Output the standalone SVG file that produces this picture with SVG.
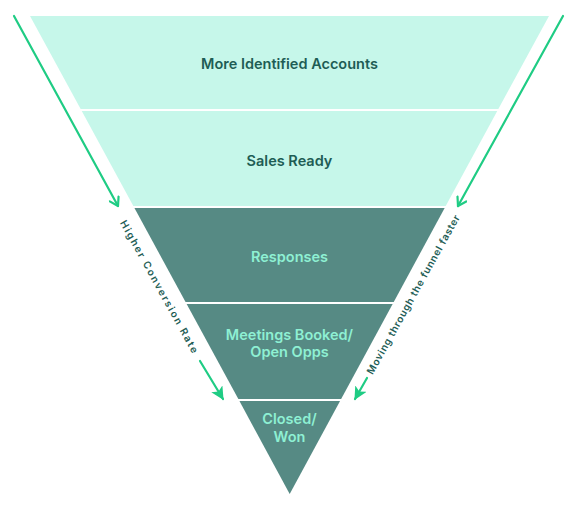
<svg xmlns="http://www.w3.org/2000/svg" width="569" height="506" viewBox="0 0 569 506">
<defs>
<marker id="open" viewBox="0 0 12 12" refX="10" refY="6" markerWidth="12" markerHeight="12" markerUnits="userSpaceOnUse" orient="auto">
<path d="M2,1 L10,6 L2,11" fill="none" stroke="#1FCC84" stroke-width="2.2" stroke-linecap="round" stroke-linejoin="round"/>
</marker>
<marker id="solid" viewBox="0 0 12 12" refX="11" refY="6" markerWidth="13" markerHeight="13" markerUnits="userSpaceOnUse" orient="auto">
<path d="M0,0 L12,6 L0,12 L3,6 Z" fill="#1FCC84"/>
</marker>
</defs>
<style>
.light{fill:#C6F7EA}
.dark{fill:#568A84}
.sep{stroke:#FFFFFF;stroke-width:2}
.t{font-family:Inter,"Liberation Sans",sans-serif;font-weight:600;font-size:14.5px;text-anchor:middle}
.tl{fill:#1E5D55}
.td{fill:#8EF0D3}
.side{font-family:Inter,"Liberation Sans",sans-serif;font-weight:600;font-size:10px;fill:#1E5D55;text-anchor:middle}
.arr{stroke:#1FCC84;stroke-width:2.2;fill:none;stroke-linecap:round}
</style>
<rect width="569" height="506" fill="#FFFFFF"/>
<g id="stage1">
<polygon class="light" points="30,16 549,16 497.8,110 81.2,110"/>
<text class="t tl" x="289.5" y="69">More Identified Accounts</text>
</g>
<g id="stage2">
<polygon class="light" points="81.2,110 497.8,110 445.2,207 133.9,207"/>
<text class="t tl" x="289.5" y="166">Sales Ready</text>
</g>
<g id="stage3">
<polygon class="dark" points="133.9,207 445.2,207 393.2,303 186.1,303"/>
<text class="t td" x="289.5" y="262">Responses</text>
</g>
<g id="stage4">
<polygon class="dark" points="186.1,303 393.2,303 340.6,400 238.9,400"/>
<text class="t td" x="289.5" y="339.5">Meetings Booked/</text>
<text class="t td" x="289.5" y="356.5">Open Opps</text>
</g>
<g id="stage5">
<polygon class="dark" points="238.9,400 340.6,400 289.7,494"/>
<text class="t td" x="289.5" y="424">Closed/</text>
<text class="t td" x="289.5" y="441.5">Won</text>
</g>
<g id="separators">
<line class="sep" x1="70" y1="110" x2="510" y2="110"/>
<line class="sep" x1="120" y1="207" x2="460" y2="207"/>
<line class="sep" x1="175" y1="303" x2="405" y2="303"/>
<line class="sep" x1="225" y1="400" x2="355" y2="400"/>
</g>
<g id="connectors">
<line class="arr" x1="14" y1="16" x2="118" y2="206" marker-end="url(#open)"/>
<line class="arr" x1="563" y1="16" x2="458" y2="206" marker-end="url(#open)"/>
<line class="arr" x1="200" y1="361" x2="223" y2="399" marker-end="url(#solid)"/>
<line class="arr" x1="367" y1="378" x2="355" y2="399" marker-end="url(#solid)"/>
</g>
<g id="labels">
<text class="side" letter-spacing="1.7" transform="translate(156.5,289) rotate(61)">Higher Conversion Rate</text>
<text class="side" letter-spacing="0.7" transform="translate(416.5,296) rotate(-61)">Moving through the funnel faster</text>
</g>
</svg>
